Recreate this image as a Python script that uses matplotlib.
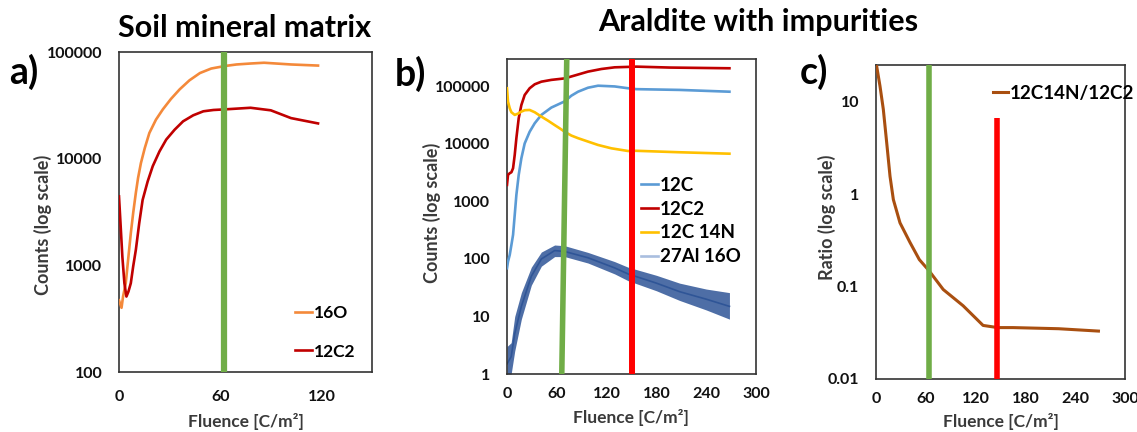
"""Three-panel SIMS depth profiles: soil matrix, araldite, ratio"""

import matplotlib
matplotlib.use('Agg')
import matplotlib.pyplot as plt
from matplotlib.ticker import FixedLocator, FixedFormatter

plt.rcParams['font.family'] = ['Lato', 'DejaVu Sans']
plt.rcParams['font.weight'] = 'bold'

# ---- panel a: soil mineral matrix ----
a_o16_x = [0, 1.5, 2.4, 4, 5.6, 7, 8.4, 10, 11.3, 13, 15.3, 18, 21.9, 26,
           30.8, 36, 41.8, 48, 54.7, 63, 69.7, 78, 86, 102, 118]
a_o16_y = [470, 400, 510, 680, 1210, 2000, 3090, 4800, 6590, 9100, 12600,
           17400, 23200, 29000, 36300, 44700, 54300, 63500, 70000, 74000,
           76400, 78000, 79300, 76400, 74600]
a_c2_x = [0, 1, 2, 3.2, 4.4, 5.6, 7, 8.4, 10, 12, 14, 17, 20, 24, 28, 33,
          38, 44, 50, 56, 63, 78, 90, 102, 118]
a_c2_y = [4430, 2310, 1200, 680, 510, 568, 680, 975, 1400, 2490, 4100, 6120,
          8500, 11700, 15100, 18700, 22400, 25500, 27800, 28600, 29000,
          30000, 28400, 24000, 21400]
a_green = 62.5

# ---- panel b: araldite with impurities ----
b_c_x = [0, 1.2, 3.3, 5.3, 7.3, 9.3, 11.3, 14.1, 17.3, 21.3, 27.3, 33.4,
         41.4, 53.4, 69.5, 77.5, 85.6, 97.6, 109.7, 129.7, 145.8, 155.9,
         208, 268]
b_c_y = [69, 90, 118, 175, 263, 582, 1300, 2890, 5630, 10200, 16300, 22900,
         32000, 42900, 55000, 69000, 81000, 95000, 103000, 100000, 93000,
         89700, 87000, 81000]
b_c2_x = [0, 1.2, 3.3, 5.3, 7.3, 9.3, 11.3, 14.1, 17.3, 21.3, 27.3, 33.4,
          41.4, 53.4, 69.5, 83.6, 97.6, 113.7, 129.7, 155.9, 196, 268]
b_c2_y = [1940, 2900, 3100, 3220, 3780, 6440, 12600, 28000, 47500, 71000,
          93000, 109000, 121000, 130000, 138000, 158000, 181000, 201000,
          215000, 221000, 213000, 207000]
b_cn_x = [0, 1.2, 3.3, 5.3, 9.3, 13.3, 17.3, 21.3, 27.3, 33.4, 41.4, 49.4,
          57.4, 63.5, 69.5, 77.5, 85.6, 97.6, 109.7, 125.7, 145.8, 155.9,
          208, 268]
b_cn_y = [93000, 54400, 41700, 35600, 32000, 33700, 36500, 38600, 39000,
          35600, 29900, 25400, 21300, 18700, 16300, 14000, 12600, 11000, 9600,
          8400, 7540, 7600, 7170, 6770]
# 27Al16O is a noisy trace: mean plus lower/upper envelope
b_alo_x = [0, 5, 9.3, 17.3, 29.3, 41.4, 57.4, 69.5, 97.6, 129.7, 145.8,
           180, 208, 240, 268]
b_alo_y = [1.5, 2, 5, 15, 50, 100, 140, 135, 105, 70, 55, 38, 27, 20, 15]
b_alo_lo = [1, 1, 2.5, 9, 35, 75, 110, 110, 85, 55, 42, 28, 19, 13, 9]
b_alo_hi = [3, 3.5, 10, 26, 72, 132, 175, 170, 130, 90, 72, 52, 38, 30, 26]
b_green = [66, 72]
b_red = 150.5

# ---- panel c: ratio ----
c_x = [0.5, 0.8, 4.8, 8.8, 12.9, 16.9, 20.9, 28.9, 41, 52.2, 63.5, 81, 105,
       129, 146.6, 165, 220, 268]
c_y = [25, 24.3, 14.8, 8.3, 3.6, 1.56, 0.875, 0.49, 0.30, 0.196, 0.150,
       0.093, 0.062, 0.038, 0.036, 0.036, 0.035, 0.033]
c_green = 63.5
c_red = 146
c_red_top = 6.7

col_o16 = '#F4893A'
col_c2 = '#C00000'
col_c = '#5B9BD5'
col_cn = '#FFC000'
col_alo = '#2F5597'
col_green = '#70AD47'
col_red = '#FF0000'
col_ratio = '#A94F10'
txt = '#111111'
lab_col = '#3a3a3a'

W, H = 1137, 432
fig = plt.figure(figsize=(W/100, H/100), facecolor='w', dpi=100)
ax_a = fig.add_axes([119/W, 60/H, 253/W, 320/H])
ax_b = fig.add_axes([507/W, 58/H, 249/W, 315/H])
ax_c = fig.add_axes([876/W, 53/H, 249/W, 314/H])

lw = 1.9
ax_a.plot(a_o16_x, a_o16_y, color=col_o16, lw=lw, label='16O', zorder=3)
ax_a.plot(a_c2_x, a_c2_y, color=col_c2, lw=lw, label='12C2', zorder=3)
ax_a.axvline(a_green, color=col_green, lw=4.5, zorder=4)
ax_a.set_xlim(0, 150)
ax_a.set_ylim(100, 100000)

ax_b.fill_between(b_alo_x, b_alo_lo, b_alo_hi, color=col_alo, alpha=0.85,
                  lw=0, zorder=2)
ax_b.plot(b_alo_x, b_alo_y, color=col_alo, lw=1.2, zorder=2)
ax_b.plot(b_c_x, b_c_y, color=col_c, lw=lw, label='12C', zorder=3)
ax_b.plot(b_c2_x, b_c2_y, color=col_c2, lw=lw, label='12C2', zorder=3)
ax_b.plot(b_cn_x, b_cn_y, color=col_cn, lw=lw, label='12C 14N', zorder=3)
ax_b.plot([], [], color='#A9BEDF', lw=lw, label='27Al 16O')
ax_b.plot(b_green, [1, 3e5], color=col_green, lw=4, zorder=4)
ax_b.axvline(b_red, color=col_red, lw=4.3, zorder=4)
ax_b.set_xlim(0, 300)
ax_b.set_ylim(1, 3e5)

ax_c.plot(c_x, c_y, color=col_ratio, lw=2.2, label='12C14N/12C2', zorder=3)
ax_c.axvline(c_green, color=col_green, lw=4, zorder=4)
ax_c.plot([c_red, c_red], [0.01, c_red_top], color=col_red, lw=4,
          solid_capstyle='butt', zorder=4)
ax_c.set_xlim(0, 300)
ax_c.set_ylim(0.01, 25)

yticks = {ax_a: [100, 1000, 10000, 100000],
          ax_b: [1, 10, 100, 1000, 10000, 100000],
          ax_c: [0.01, 0.1, 1, 10]}
xticks = {ax_a: [0, 60, 120],
          ax_b: [0, 60, 120, 180, 240, 300],
          ax_c: [0, 60, 120, 180, 240, 300]}
xpad = {ax_a: 13, ax_b: 9.5, ax_c: 9.5}

for ax in (ax_a, ax_b, ax_c):
    ax.set_yscale('log')
    ax.yaxis.set_major_locator(FixedLocator(yticks[ax]))
    ax.yaxis.set_major_formatter(FixedFormatter([('%g' % v) for v in yticks[ax]]))
    ax.yaxis.set_minor_locator(FixedLocator([]))
    ax.set_xticks(xticks[ax])
    ax.tick_params(length=0, labelsize=11.5, colors=txt)
    ax.tick_params(axis='x', pad=xpad[ax])
    ax.tick_params(axis='y', pad=12)
    for s in ax.spines.values():
        s.set_color('#333333')
        s.set_linewidth(1.2)
    ax.set_xlabel('Fluence [C/m²]', fontsize=12.5, color=lab_col,
                  fontweight='bold')

ax_a.set_ylabel('Counts (log scale)', fontsize=13, color=lab_col,
                fontweight='bold')
ax_b.set_ylabel('Counts (log scale)', fontsize=13, color=lab_col,
                fontweight='bold')
ax_c.set_ylabel('Ratio (log scale)', fontsize=13, color=lab_col,
                fontweight='bold')

# axis label placement in figure pixels (x, y from top)
xlab_pos = {ax_a: (246, 421), ax_b: (631, 417), ax_c: (1001, 422)}
ylab_pos = {ax_a: (43, 225), ax_b: (432, 213), ax_c: (827, 217)}
for ax in (ax_a, ax_b, ax_c):
    x, y = xlab_pos[ax]
    ax.xaxis.set_label_coords(x/W, 1 - y/H, transform=fig.transFigure)
    ax.xaxis.label.set_va('center')
    x, y = ylab_pos[ax]
    ax.yaxis.set_label_coords(x/W, 1 - y/H, transform=fig.transFigure)
    ax.yaxis.label.set_va('center')
    ax.yaxis.label.set_ha('center')

leg_kw = dict(frameon=False, handletextpad=0.1, borderpad=0,
              borderaxespad=0, loc='upper left',
              bbox_transform=fig.transFigure)
ax_a.legend(bbox_to_anchor=(295/W, 1 - 305/H), handlelength=1.0,
            labelspacing=1.3, prop={'size': 12.5, 'weight': 'bold'},
            **leg_kw)
ax_b.legend(bbox_to_anchor=(641/W, 1 - 177/H), handlelength=0.9,
            labelspacing=0.36, prop={'size': 13.5, 'weight': 'bold'},
            **leg_kw)
ax_c.legend(bbox_to_anchor=(993/W, 1 - 85/H), handlelength=0.8,
            prop={'size': 13.5, 'weight': 'bold'}, **leg_kw)

# titles and panel letters
fig.text(245/W, 1 - 28/H, 'Soil mineral matrix', ha='center',
         va='center', fontsize=22, fontweight='bold', color='black')
fig.text(758/W, 1 - 22/H, 'Araldite with impurities', ha='center',
         va='center', fontsize=22, fontweight='bold', color='black')
for lab, x, y in [('a)', 24, 72), ('b)', 410, 74), ('c)', 814, 72)]:
    fig.text(x/W, 1 - y/H, lab, ha='center', va='center',
             fontsize=27, fontweight='bold', color='black')

fig.savefig('out.png', facecolor=fig.get_facecolor(), dpi=100)
